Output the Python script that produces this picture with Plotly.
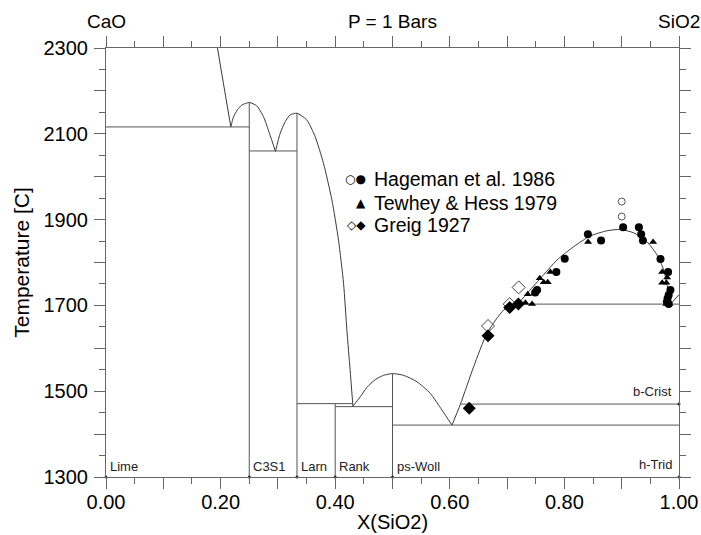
import plotly.graph_objects as go

# ---------------- data ----------------
# liquidus curves (X(SiO2), T [C])
lime_liq_x = [0.1945, 0.2178]
lime_liq_T = [2300, 2116]

c3s_liq_x = [0.2178, 0.2224, 0.2294, 0.2370, 0.2503, 0.2632, 0.2748, 0.2853, 0.2957]
c3s_liq_T = [2116, 2139, 2156, 2167, 2173, 2165, 2140, 2101, 2059]

larn_liq_x = [0.2957, 0.3039, 0.3127, 0.3214, 0.3331, 0.3506, 0.3651, 0.3796, 0.3942,
              0.4058, 0.4146, 0.4204, 0.4260, 0.4309]
larn_liq_T = [2059, 2101, 2128, 2144, 2148, 2132, 2093, 2031, 1946,
              1852, 1751, 1642, 1550, 1465]

woll_liq_x = [0.4309, 0.4437, 0.4553, 0.4699, 0.4844, 0.5001, 0.5194, 0.5427, 0.5659,
              0.5863, 0.6038]
woll_liq_T = [1465, 1487, 1509, 1527, 1537, 1541, 1537, 1522, 1495, 1456, 1421]

sil_liq_x = [0.6038, 0.6183, 0.6416, 0.6649, 0.6940, 0.7202]
sil_liq_T = [1421, 1469, 1557, 1635, 1689, 1705]

gap_x = [0.7202, 0.7348, 0.7581, 0.7872, 0.8163, 0.8454, 0.8745, 0.8978, 0.9211,
         0.9444, 0.9619, 0.9735, 0.9822, 0.9852]
gap_T = [1705, 1728, 1763, 1806, 1837, 1862, 1874, 1877, 1869,
         1848, 1817, 1782, 1728, 1703]

crist_liq_x = [0.9852, 1.0]
crist_liq_T = [1703, 1725]

# isotherms (x_start, x_end, T)
iso_x0 = [0.0, 0.25, 0.3333, 0.40, 0.50, 0.6183, 0.7202]
iso_x1 = [0.25, 0.3333, 0.4309, 0.50, 1.00, 1.00, 1.00]
iso_T = [2116, 2060, 1471, 1464, 1421, 1470, 1703]

# compound verticals (x, T_top)
comp_x = [0.25, 0.3333, 0.40, 0.50]
comp_Ttop = [2173, 2148, 1471, 1541]

# phase labels
phase_names = ["Lime", "C3S1", "Larn", "Rank", "ps-Woll"]
phase_x = [0.0, 0.25, 0.3333, 0.40, 0.50]
right_names = ["h-Trid", "b-Crist"]
right_T = [1300, 1470]

# experimental data
hag_open_x = [0.900, 0.900]
hag_open_T = [1942, 1907]
hag_fill_x = [0.9025, 0.841, 0.864, 0.930, 0.934, 0.937, 0.8006, 0.786, 0.7523, 0.7490,
              0.9677, 0.981, 0.985, 0.982, 0.980, 0.979, 0.982]
hag_fill_T = [1882, 1866, 1851, 1882, 1866, 1851, 1809, 1778, 1736, 1730,
              1808, 1778, 1736, 1724, 1716, 1708, 1703]
tew_x = [0.8414, 0.9548, 0.7569, 0.7639, 0.7709, 0.7755, 0.7476, 0.7360, 0.7319, 0.7436,
         0.9706, 0.9793, 0.9706, 0.978, 0.978, 0.978, 0.983]
tew_T = [1848, 1848, 1763, 1754, 1754, 1778, 1728, 1726, 1706, 1703,
         1778, 1765, 1753, 1753, 1712, 1703, 1703]
greig_open_x = [0.7202, 0.7045, 0.6667]
greig_open_T = [1742, 1703, 1652]
greig_fill_x = [0.7045, 0.7197, 0.6667, 0.634]
greig_fill_T = [1695, 1703, 1629, 1460]

legend_syms = ["○●", "▲", "◇◆"]
legend_labels = ["Hageman et al. 1986", "Tewhey & Hess 1979", "Greig 1927"]
legend_T = [1994, 1938, 1887]
legend_x = 0.4646

x_tickvals = [0.0, 0.1, 0.2, 0.3, 0.4, 0.5, 0.6, 0.7, 0.8, 0.9, 1.0]
x_ticktext = ["0.00", "", "0.20", "", "0.40", "", "0.60", "", "0.80", "", "1.00"]
y_tickvals = [1300, 1400, 1500, 1600, 1700, 1800, 1900, 2000, 2100, 2200, 2300]
y_ticktext = ["1300", "", "1500", "", "1700", "", "1900", "", "2100", "", "2300"]

# ---------------- figure ----------------
FONT = "Liberation Sans, Arial, Helvetica, sans-serif"
LC = "#3a3a3a"
fig = go.Figure()

def line(x, y, color=LC, width=1):
    fig.add_trace(go.Scatter(x=x, y=y, mode="lines", line=dict(color=color, width=width),
                             showlegend=False, hoverinfo="skip"))

for cx, cy in [(lime_liq_x, lime_liq_T), (c3s_liq_x, c3s_liq_T), (larn_liq_x, larn_liq_T),
               (woll_liq_x, woll_liq_T), (sil_liq_x, sil_liq_T), (gap_x, gap_T),
               (crist_liq_x, crist_liq_T)]:
    fig.add_trace(go.Scatter(x=cx, y=cy, mode="lines", line=dict(color=LC, width=1, shape="spline", smoothing=0.6),
                             showlegend=False, hoverinfo="skip"))

for a, b, t in zip(iso_x0, iso_x1, iso_T):
    line([a, b], [t, t], color="#555555")

for cx, tt in zip(comp_x, comp_Ttop):
    line([cx, cx], [1300, tt], color="#555555")

# little dots at phase positions
fig.add_trace(go.Scatter(x=phase_x + [1.0, 1.0], y=[1300] * len(phase_x) + right_T,
                         mode="markers", marker=dict(color="#222", size=3),
                         showlegend=False, hoverinfo="skip", cliponaxis=False))

# experimental points
fig.add_trace(go.Scatter(x=hag_open_x, y=hag_open_T, mode="markers",
                         marker=dict(symbol="circle-open", size=7, color="#555", line=dict(width=1)),
                         showlegend=False))
fig.add_trace(go.Scatter(x=hag_fill_x, y=hag_fill_T, mode="markers",
                         marker=dict(symbol="circle", size=8, color="black"), showlegend=False))
fig.add_trace(go.Scatter(x=tew_x, y=tew_T, mode="markers",
                         marker=dict(symbol="triangle-up", size=7, color="black"), showlegend=False))
fig.add_trace(go.Scatter(x=greig_open_x, y=greig_open_T, mode="markers",
                         marker=dict(symbol="diamond-open", size=10, color="#444", line=dict(width=1)),
                         showlegend=False))
fig.add_trace(go.Scatter(x=greig_fill_x, y=greig_fill_T, mode="markers",
                         marker=dict(symbol="diamond", size=10, color="black"), showlegend=False))

ann = []
for name, px in zip(phase_names, phase_x):
    ann.append(dict(x=px, y=1300, xref="x", yref="y", text=name, showarrow=False,
                    xanchor="left", yanchor="bottom", xshift=2, yshift=1,
                    font=dict(family=FONT, size=13, color="#222")))
for name, t in zip(right_names, right_T):
    ann.append(dict(x=1.0, y=t, xref="x", yref="y", text=name, showarrow=False,
                    xanchor="right", yanchor="bottom", xshift=-5, yshift=3,
                    font=dict(family=FONT, size=13, color="#222")))
for sym, lab, t in zip(legend_syms, legend_labels, legend_T):
    ann.append(dict(x=legend_x, y=t, xref="x", yref="y", text=sym, showarrow=False,
                    xanchor="right", yanchor="middle", xshift=-4,
                    font=dict(family="DejaVu Sans", size=12, color="black")))
    ann.append(dict(x=legend_x, y=t, xref="x", yref="y", text=lab, showarrow=False,
                    xanchor="left", yanchor="middle",
                    font=dict(family=FONT, size=19.5, color="black")))
for txt, px in [("CaO", 0.0), ("P = 1 Bars", 0.5), ("SiO2", 1.0)]:
    ann.append(dict(x=px, y=1, xref="paper", yref="paper", text=txt, showarrow=False,
                    xanchor="center", yanchor="bottom", yshift=14,
                    font=dict(family=FONT, size=19, color="black")))

axcommon = dict(showline=True, linecolor="#666", linewidth=1, mirror="ticks",
                ticks="outside", ticklen=11, tickwidth=1, tickcolor="#666",
                showgrid=False, zeroline=False, automargin=False,
                tickfont=dict(family=FONT, size=20, color="black"))

fig.update_layout(
    width=701, height=535,
    margin=dict(l=106, r=22, t=48, b=58, autoexpand=False),
    paper_bgcolor="white", plot_bgcolor="white",
    font=dict(family=FONT, color="black"),
    annotations=ann,
    xaxis=dict(range=[0, 1], tickmode="array", tickvals=x_tickvals, ticktext=x_ticktext,
               minor=dict(tickmode="linear", tick0=0, dtick=0.05, ticks="outside", ticklen=6,
                          tickcolor="#666", tickwidth=1),
               title=dict(text="X(SiO2)", font=dict(family=FONT, size=20), standoff=2),
               ticklabelstandoff=-4, **axcommon),
    yaxis=dict(range=[1300, 2300], tickmode="array", tickvals=y_tickvals, ticktext=y_ticktext,
               minor=dict(tickmode="linear", tick0=1300, dtick=50, ticks="outside", ticklen=6,
                          tickcolor="#666", tickwidth=1),
               title=dict(text="Temperature [C]", font=dict(family=FONT, size=21), standoff=8),
               ticklabelstandoff=2, **axcommon),
)

# remove the default page margin so the 701x535 figure fills the window exactly
fig.write_html("out.html", config={"displayModeBar": False},
               post_script="document.body.style.margin='0px';document.body.style.overflow='hidden';")
